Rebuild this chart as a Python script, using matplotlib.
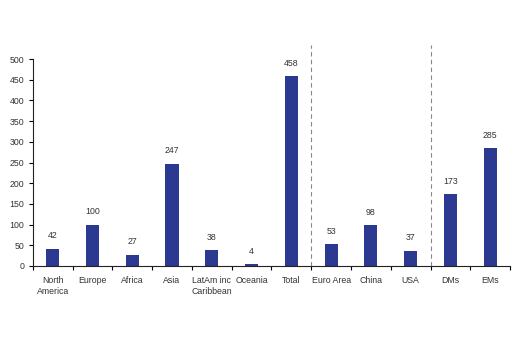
import matplotlib
matplotlib.use("Agg")

import matplotlib.pyplot as plt
from matplotlib.ticker import FixedLocator, NullFormatter

plt.rcParams["font.family"] = ["Liberation Sans Narrow", "Liberation Sans", "DejaVu Sans"]

categories = ["North\nAmerica", "Europe", "Africa", "Asia", "LatAm inc\nCaribbean", "Oceania",
              "Total", "Euro Area", "China", "USA", "DMs", "EMs"]
values = [42, 100, 27, 247, 38, 4, 458, 53, 98, 37, 173, 285]
y_ticks = [0, 50, 100, 150, 200, 250, 300, 350, 400, 450, 500]
separators = [6.5, 9.5]

bar_color = "#2B3990"
text_color = "#333333"
fs = 6.3

fig = plt.figure(figsize=(5.2, 3.56), dpi=100)
ax = fig.add_axes([0.063, 0.253, 0.918, 0.581])

x = list(range(len(categories)))
bars = ax.bar(x, values, width=0.33, color=bar_color, zorder=2)

for b, v in zip(bars, values):
    ax.annotate(str(v), (b.get_x() + b.get_width() / 2, v), xytext=(0, 6),
                textcoords="offset points", ha="center", va="bottom",
                fontsize=fs, color=text_color)

for s in separators:
    ax.axvline(s, ymin=0, ymax=1.07, color="#888888", linestyle=(0, (4, 3)),
               linewidth=0.8, clip_on=False, zorder=1)

ax.set_xlim(-0.5, len(categories) - 0.5)
ax.set_ylim(0, 500)
ax.set_yticks(y_ticks)
ax.set_xticks(x)
ax.set_xticklabels(categories, fontsize=fs, color=text_color, linespacing=1.4)
ax.xaxis.set_minor_locator(FixedLocator([i - 0.5 for i in range(len(categories) + 1)]))
ax.xaxis.set_minor_formatter(NullFormatter())
ax.tick_params(axis="x", which="major", length=0, pad=7)
ax.tick_params(axis="x", which="minor", length=3, width=0.8, direction="out")
ax.tick_params(axis="y", length=3, width=0.8, direction="out", labelsize=fs,
               labelcolor=text_color, pad=3)

for side in ["top", "right"]:
    ax.spines[side].set_visible(False)
for side in ["left", "bottom"]:
    ax.spines[side].set_linewidth(0.8)
    ax.spines[side].set_color("#222222")

fig.savefig("out.png", dpi=100)
plt.close(fig)
